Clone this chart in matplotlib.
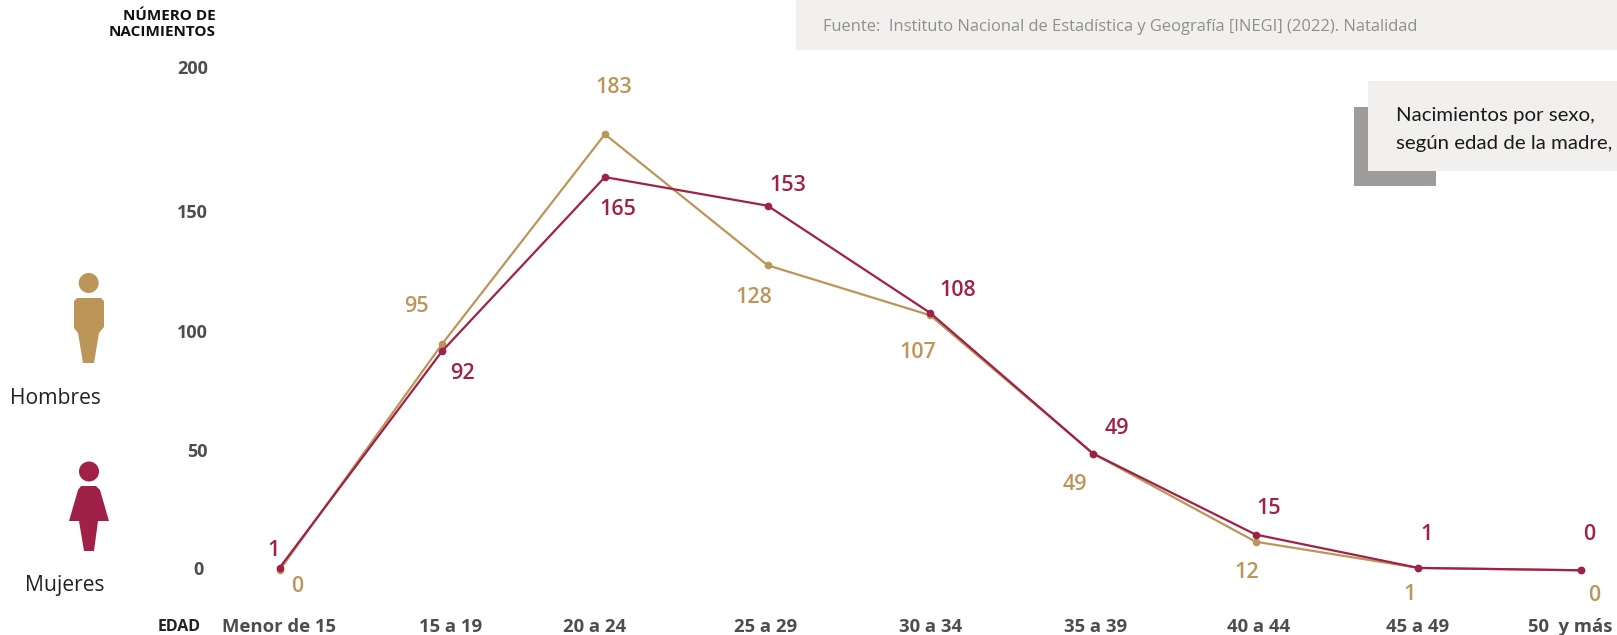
"""Nacimientos por sexo, segun edad de la madre."""

import matplotlib
matplotlib.use("Agg")
import matplotlib.pyplot as plt
from matplotlib.patches import Circle, Polygon, Rectangle

plt.rcParams.update({
    "font.family": ["Open Sans", "DejaVu Sans"],
    "figure.facecolor": "white",
})

W, H = 1617, 635
GOLD = "#bb9658"
WINE = "#a02148"
GRAY = "#4d4d4d"

edades = ["Menor de 15", "15 a 19", "20 a 24", "25 a 29", "30 a 34",
          "35 a 39", "40 a 44", "45 a 49", "50  y más"]
hombres = [0, 95, 183, 128, 107, 49, 12, 1, 0]
mujeres = [1, 92, 165, 153, 108, 49, 15, 1, 0]
y_labels = ["200", "150", "100", "50", "0"]

# label offsets in px from the point (dx, dy, y up)
off_h = [(18, -16), (-26, 37), (9, 47), (-14, -32), (-13, -37), (-18, -31),
         (-9, -31), (-9, -27), (13, -25)]
off_m = [(-6, 17), (20, -22), (13, -32), (20, 20), (27, 22), (24, 25),
         (13, 26), (8, 33), (8, 36)]
x_label_px = [279, 451, 595, 766, 931, 1096, 1259, 1418, 1570]
y_label_px = [(208, 69), (208, 213), (208, 333), (208, 452), (204, 570)]


def person(ax, pts, head, color):
    ax.add_patch(Circle(head, 10, color=color, lw=0))
    ax.add_patch(Polygon(pts, closed=True, color=color, lw=0))


fig = plt.figure(figsize=(W / 100, H / 100), dpi=100)

# page layer in pixel coordinates for boxes, icons and loose text
bg = fig.add_axes([0, 0, 1, 1])
bg.set_xlim(0, W)
bg.set_ylim(H, 0)
bg.axis("off")

bg.add_patch(Rectangle((796, 0), 821, 49.5, color="#f1f0ee", lw=0))
bg.add_patch(Rectangle((1354, 107), 82, 79, color="#9d9c9a", lw=0))
bg.add_patch(Rectangle((1368, 81), 249, 90, color="#f1f0ee", lw=0))
bg.text(823, 27, "Fuente:  Instituto Nacional de Estadística y Geografía [INEGI] (2022). Natalidad",
        fontsize=11.92, color="#8f8f8f", va="center")
bg.text(1396, 116, "Nacimientos por sexo,", fontsize=14.7, color="#1a1a1a", va="center",
        family=["Lato", "DejaVu Sans"])
bg.text(1396, 143, "según edad de la madre,", fontsize=14.7, color="#1a1a1a", va="center",
        family=["Lato", "DejaVu Sans"])

bg.text(216, 16, "NÚMERO DE", fontsize=11, fontweight="bold", color="#111111", ha="right", va="center")
bg.text(216, 32, "NACIMIENTOS", fontsize=11, fontweight="bold", color="#111111", ha="right", va="center")
for lab, (x, y) in zip(y_labels, y_label_px):
    bg.text(x, y, lab, fontsize=13, fontweight="bold", color=GRAY, ha="right", va="center")

bg.text(158, 627, "EDAD", fontsize=11.5, fontweight="bold", color="#222222", va="center")
for lab, x in zip(edades, x_label_px):
    bg.text(x, 627, lab, fontsize=13.3, fontweight="bold", color=GRAY, ha="center", va="center")

person(bg, [(77, 298), (101, 298), (104, 301), (104, 327), (99, 333), (94, 363),
            (83, 363), (78, 333), (74, 328), (74, 301)], (88.7, 283), GOLD)
person(bg, [(81, 486), (96, 486), (100, 490), (109, 521), (98, 521), (94, 551),
            (84, 551), (79, 521), (69, 521), (78, 490)], (89, 471.5), WINE)
bg.text(55, 399, "Hombres", fontsize=15.2, color="#222222", ha="center", va="center")
bg.text(65, 586, "Mujeres", fontsize=15.2, color="#222222", ha="center", va="center")

# data layer
x0, x1, y0, y200 = 279.5, 1581, 570.3, 93.7
ax = fig.add_axes([x0 / W, 1 - y0 / H, (x1 - x0) / W, (y0 - y200) / H])
ax.set_xlim(0, 8)
ax.set_ylim(0, 200)
ax.axis("off")
ax.patch.set_alpha(0)

xs = list(range(len(edades)))
ax.plot(xs, hombres, color=GOLD, lw=1.6, marker="o", ms=4.5, clip_on=False)
ax.plot(xs, mujeres, color=WINE, lw=1.6, marker="o", ms=4.5, clip_on=False)

for x, v, (dx, dy) in zip(xs, hombres, off_h):
    ax.annotate(str(v), (x, v), xytext=(dx * 0.72, dy * 0.72), textcoords="offset points",
                fontsize=15.5, fontweight=600, color=GOLD, ha="center", va="center", annotation_clip=False)
for x, v, (dx, dy) in zip(xs, mujeres, off_m):
    ax.annotate(str(v), (x, v), xytext=(dx * 0.72, dy * 0.72), textcoords="offset points",
                fontsize=15.5, fontweight=600, color=WINE, ha="center", va="center", annotation_clip=False)

fig.savefig("out.png", dpi=100)
